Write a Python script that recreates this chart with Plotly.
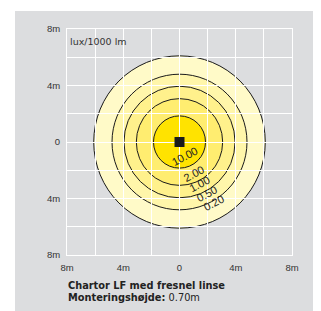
import plotly.graph_objects as go

# ---- data ----
levels = ["0.20", "0.50", "1.00", "2.00", "10.00"]          # lux/1000 lm
radii_m = [6.1, 4.8, 3.95, 3.07, 1.85]                       # isolux radius (m)
tick_vals = [-8, -6, -4, -2, 0, 2, 4, 6, 8]
tick_text = ["8m", "", "4m", "", "0", "", "4m", "", "8m"]
y_tick_text = ["8m", "", "4m", "", "0", "", "4m", "", "8m"]
title_line1 = "Chartor LF med fresnel linse"
title_key = "Monteringshøjde:"
title_val = "0.70m"
unit_label = "lux/1000 lm"

# styles
fills = ["#FFFAC8", "#FFF6AA", "#FFF18C", "#FFED70", "#FFE300"]
label_pos = [(2.4, -4.3), (1.9, -3.65), (1.42, -3.0), (0.96, -2.23), (0.4, -1.0)]
GREY = "#DCDDDF"
FONT = "Liberation Sans"
FONT2 = "DejaVu Sans"

fig = go.Figure()

shapes = []
# grey panel behind everything
shapes.append(dict(type="rect", xref="paper", yref="paper",
                   x0=-0.231, x1=1.14, y0=-0.26, y1=1.08,
                   fillcolor=GREY, line=dict(width=0), layer="below"))
for r, c in zip(radii_m, fills):
    shapes.append(dict(type="circle", xref="x", yref="y",
                       x0=-r, x1=r, y0=-r, y1=r,
                       fillcolor=c, line=dict(color="#1a1a1a", width=1),
                       layer="below"))

# luminaire marker
fig.add_trace(go.Scatter(x=[0], y=[0], mode="markers",
                         marker=dict(symbol="square", size=10, color="#1a1a1a"),
                         hoverinfo="skip", showlegend=False))

annotations = []
for lab, (lx, ly) in zip(levels, label_pos):
    annotations.append(dict(x=lx, y=ly, xref="x", yref="y", text=lab,
                            showarrow=False, textangle=-28,
                            font=dict(family=FONT, size=11, color="#222222")))
annotations.append(dict(x=0.005, y=0.943, xref="paper", yref="paper",
                        text=unit_label, showarrow=False,
                        xanchor="left", yanchor="middle",
                        font=dict(family=FONT2, size=9.5, color="#333333")))
annotations.append(dict(x=-0.005, y=-0.135, xref="paper", yref="paper",
                        text=f"<b>{title_line1}</b>",
                        showarrow=False, xanchor="left", yanchor="middle",
                        font=dict(family=FONT2, size=9.8, color="#222222")))
annotations.append(dict(x=-0.005, y=-0.188, xref="paper", yref="paper",
                        text=f"<b>{title_key}</b> {title_val}",
                        showarrow=False, xanchor="left", yanchor="middle",
                        font=dict(family=FONT2, size=9.8, color="#222222")))

axis_common = dict(range=[-8, 8], tickvals=tick_vals, showgrid=True,
                   gridcolor="white", gridwidth=1, zeroline=False,
                   showline=True, linecolor="white", linewidth=1, mirror=True,
                   ticks="outside", ticklen=4, tickcolor="rgba(0,0,0,0)",
                   tickfont=dict(family=FONT, size=9.5, color="#333333"),
                   fixedrange=True)

fig.update_layout(
    width=313, height=303,
    margin=dict(l=59, r=29, t=21, b=56),
    paper_bgcolor="white", plot_bgcolor=GREY,
    shapes=shapes, annotations=annotations,
    xaxis=dict(axis_common, ticktext=tick_text),
    yaxis=dict(axis_common, ticktext=y_tick_text),
    showlegend=False,
)

fig.write_html("out.html")
